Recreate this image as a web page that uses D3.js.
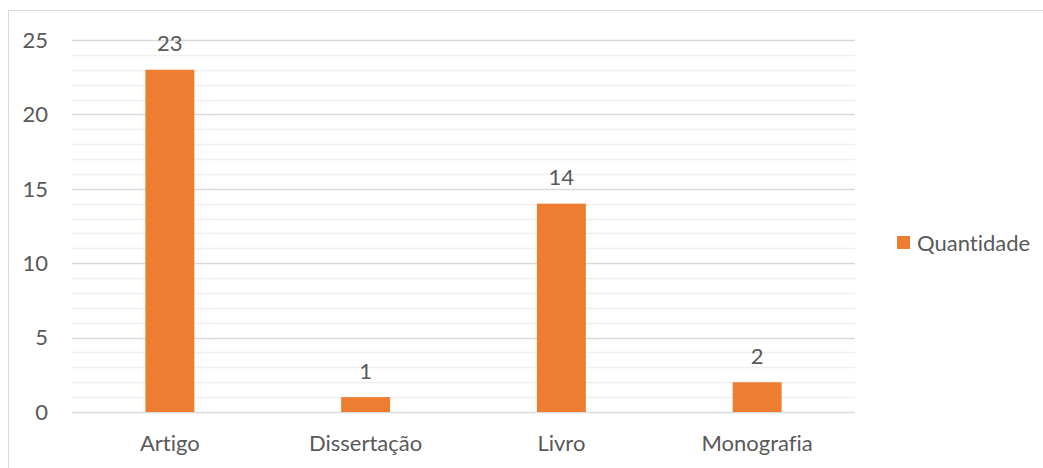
<!DOCTYPE html>
<html>
<head>
<meta charset="utf-8">
<script src="https://cdn.jsdelivr.net/npm/d3@7"></script>
<style>
  body { margin: 0; background: #fff; }
  svg text { font-family: Lato, "Open Sans", sans-serif; fill: #595959; font-variant-ligatures: none; }
</style>
</head>
<body>
<svg id="chart" width="1043" height="468"></svg>
<script>
// data
const categories = ["Artigo", "Dissertação", "Livro", "Monografia"];
const quantidade = [23, 1, 14, 2];
const yTicks = [0, 5, 10, 15, 20, 25];
const seriesName = "Quantidade";

const svg = d3.select("#chart");
const margin = { top: 40, left: 72, right: 188, bottom: 56 };
const width = 1043 - margin.left - margin.right;
const height = 468 - margin.top - margin.bottom;

// chart border
svg.append("rect")
  .attr("x", 8.5).attr("y", 10.5)
  .attr("width", 1060).attr("height", 480)
  .attr("fill", "none")
  .attr("stroke", "#d9d9d9");

const x = d3.scaleBand().domain(categories).range([0, width]).paddingInner(0).paddingOuter(0);
const y = d3.scaleLinear().domain([0, 25]).range([height, 0]);
const barW = x.bandwidth() * 0.25;

const g = svg.append("g")
  .attr("transform", `translate(${margin.left},${margin.top})`);

// minor gridlines
g.append("g")
  .selectAll("line")
  .data(d3.range(0, 26).filter(function (d) { return d % 5 !== 0; }))
  .enter().append("line")
  .attr("x1", 0).attr("x2", width)
  .attr("y1", function (d) { return Math.round(y(d)) + 0.5; })
  .attr("y2", function (d) { return Math.round(y(d)) + 0.5; })
  .attr("stroke", "#f0f0f0")
  .attr("stroke-width", 1.5);

// major gridlines
g.append("g")
  .selectAll("line")
  .data(yTicks)
  .enter().append("line")
  .attr("x1", 0).attr("x2", width)
  .attr("y1", function (d) { return Math.round(y(d)) + 0.5; })
  .attr("y2", function (d) { return Math.round(y(d)) + 0.5; })
  .attr("stroke", "#d9d9d9")
  .attr("stroke-width", 1.5);

// y labels
g.append("g")
  .selectAll("text")
  .data(yTicks)
  .enter().append("text")
  .attr("x", -24)
  .attr("y", function (d) { return y(d); })
  .attr("dy", "0.35em")
  .attr("text-anchor", "end")
  .style("font-size", "22px")
  .text(function (d) { return d; });

// x labels
g.append("g")
  .selectAll("text")
  .data(categories)
  .enter().append("text")
  .attr("x", function (d) { return x(d) + x.bandwidth() / 2; })
  .attr("y", height + 31)
  .attr("dy", "0.35em")
  .attr("text-anchor", "middle")
  .style("font-size", "22px")
  .text(function (d) { return d; });

// bars
g.selectAll(".bar")
  .data(quantidade)
  .enter().append("rect")
  .attr("class", "bar")
  .attr("x", function (d, i) { return x(categories[i]) + x.bandwidth() / 2 - barW / 2; })
  .attr("y", function (d) { return y(d); })
  .attr("width", barW)
  .attr("height", function (d) { return height - y(d); })
  .attr("fill", "#ed7d31");

// value labels
g.selectAll(".val")
  .data(quantidade)
  .enter().append("text")
  .attr("class", "val")
  .attr("x", function (d, i) { return x(categories[i]) + x.bandwidth() / 2; })
  .attr("y", function (d) { return y(d) - 26; })
  .attr("dy", "0.35em")
  .attr("text-anchor", "middle")
  .style("font-size", "22px")
  .text(function (d) { return d; });

// legend
const legend = svg.append("g").attr("transform", "translate(897,236)");
legend.append("rect")
  .attr("width", 13).attr("height", 13)
  .attr("fill", "#ed7d31");
legend.append("text")
  .attr("x", 20).attr("y", 7)
  .attr("dy", "0.35em")
  .style("font-size", "22px")
  .text(seriesName);
</script>
</body>
</html>
